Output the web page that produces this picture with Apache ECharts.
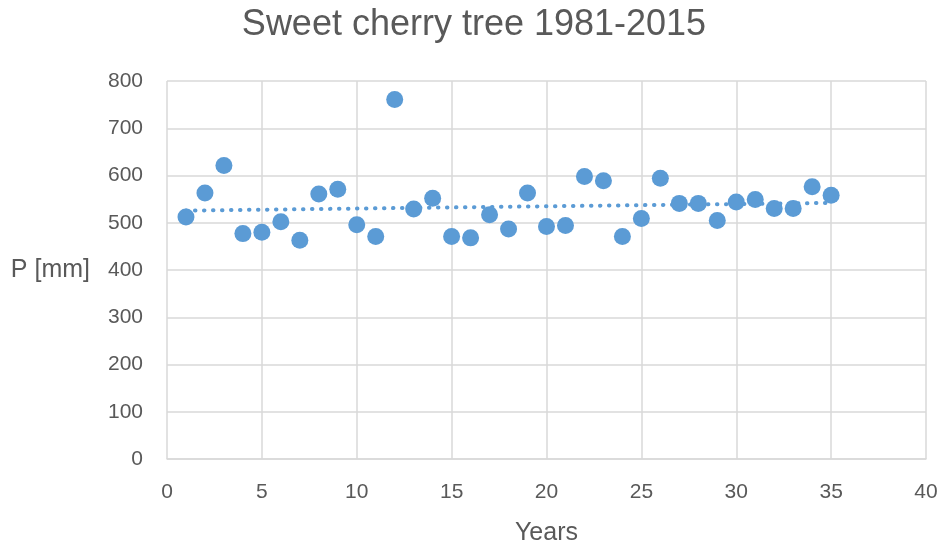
<!DOCTYPE html>
<html>
<head>
<meta charset="utf-8">
<script src="https://cdn.jsdelivr.net/npm/echarts@6/dist/echarts.min.js"></script>
<style>
  html, body { margin: 0; padding: 0; background: #fff; }
  #chart-container { width: 948px; height: 547px; }
</style>
</head>
<body>
<div id="chart-container"></div>
<script>
var dom = document.getElementById('chart-container');
var myChart = echarts.init(dom, null, { renderer: 'canvas' });

// year index 1..35 (1981-2015)
var years = [];
for (var k = 1; k <= 35; k++) years.push(k);
// precipitation P [mm]
var precip = [512, 563, 621, 477, 480, 502, 463, 561, 571, 496,
              471, 761, 529, 552, 471, 468, 517, 487, 563, 492,
              494, 598, 589, 471, 509, 594, 541, 541, 505, 544,
              549, 530, 530, 576, 558];
var xTicks = [0, 5, 10, 15, 20, 25, 30, 35, 40];
var yTicks = [0, 100, 200, 300, 400, 500, 600, 700, 800];

var points = years.map(function (x, i) { return [x, precip[i]]; });

// linear trend (least squares) over the points
var n = years.length, sx = 0, sy = 0, sxx = 0, sxy = 0;
for (var i = 0; i < n; i++) {
  sx += years[i]; sy += precip[i];
  sxx += years[i] * years[i]; sxy += years[i] * precip[i];
}
var slope = (n * sxy - sx * sy) / (n * sxx - sx * sx);
var icpt = (sy - slope * sx) / n;
var x0 = years[0], x1 = years[n - 1];
var trend = [[x0, icpt + slope * x0], [x1, icpt + slope * x1]];

var font = "'Liberation Sans', Arial, sans-serif";
var grey = '#595959';

var option = {
  animation: false,
  title: {
    text: 'Sweet cherry tree 1981-2015',
    left: 'center',
    top: 2,
    textStyle: { fontFamily: font, fontSize: 36, fontWeight: 'normal', color: grey }
  },
  grid: { left: 167, right: 22, top: 81, bottom: 88, outerBoundsMode: 'none' },
  xAxis: {
    type: 'value',
    min: xTicks[0], max: xTicks[xTicks.length - 1], interval: xTicks[1] - xTicks[0],
    name: 'Years',
    nameLocation: 'middle',
    nameGap: 62,
    nameTextStyle: { fontFamily: font, fontSize: 25, color: grey },
    axisLine: { show: true, lineStyle: { color: '#d9d9d9', width: 1.5 } },
    axisTick: { show: false },
    axisLabel: { fontFamily: font, fontSize: 21, color: grey, margin: 23 },
    splitLine: { show: true, showMinLine: true, showMaxLine: true, lineStyle: { color: '#d9d9d9', width: 1.5 } }
  },
  yAxis: {
    type: 'value',
    min: yTicks[0], max: yTicks[yTicks.length - 1], interval: yTicks[1] - yTicks[0],
    name: 'P [mm]',
    nameLocation: 'middle',
    nameRotate: 0,
    nameGap: 77,
    nameTextStyle: { fontFamily: font, fontSize: 25, color: grey },
    axisLine: { show: false },
    axisTick: { show: false },
    axisLabel: { fontFamily: font, fontSize: 21, color: grey, margin: 24 },
    splitLine: { show: true, showMaxLine: true, lineStyle: { color: '#d9d9d9', width: 1.5 } }
  },
  series: [
    {
      type: 'scatter',
      data: points,
      symbolSize: 17,
      itemStyle: { color: '#5b9bd5', opacity: 1 },
      z: 3
    },
    {
      type: 'line',
      data: trend,
      symbol: 'none',
      lineStyle: { color: '#5b9bd5', width: 4, type: [0.5, 8.5], cap: 'round' },
      z: 2
    }
  ]
};

myChart.setOption(option);
window.addEventListener('resize', myChart.resize);
</script>
</body>
</html>
